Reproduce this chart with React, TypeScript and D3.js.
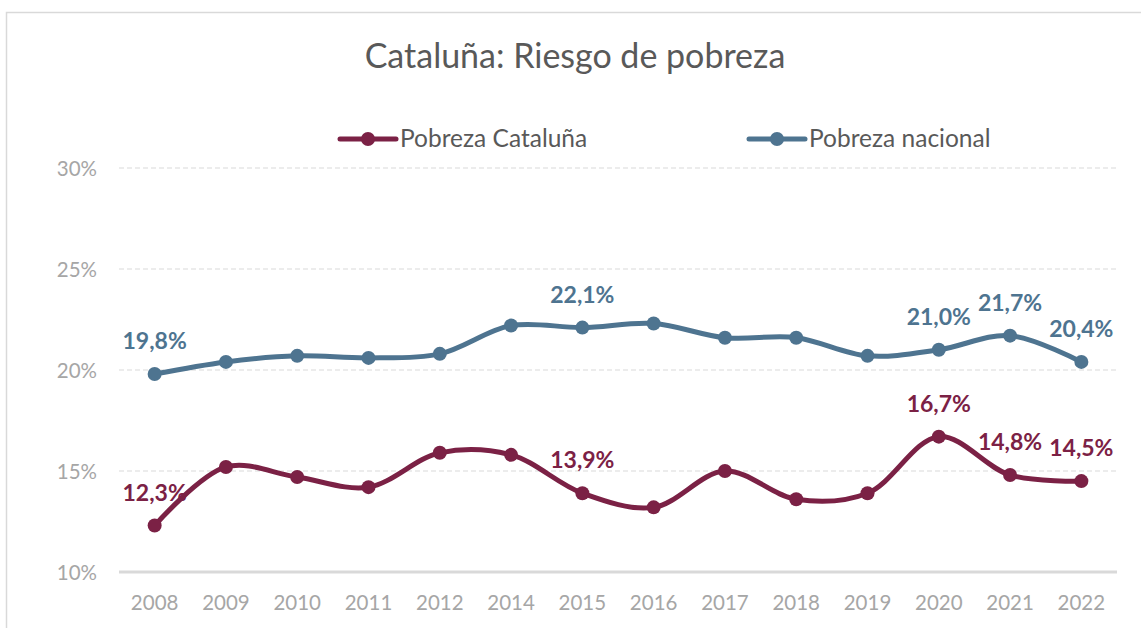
import * as d3 from "d3";

const years = ["2008", "2009", "2010", "2011", "2012", "2014", "2015", "2016", "2017", "2018", "2019", "2020", "2021", "2022"];
const cataluna = [12.3, 15.2, 14.7, 14.2, 15.9, 15.8, 13.9, 13.2, 15.0, 13.6, 13.9, 16.7, 14.8, 14.5];
const nacional = [19.8, 20.4, 20.7, 20.6, 20.8, 22.2, 22.1, 22.3, 21.6, 21.6, 20.7, 21.0, 21.7, 20.4];
// which points get a data label
const labelYears = ["2008", "2015", "2020", "2021", "2022"];
const yTicks = [10, 15, 20, 25, 30];

const RED = "#7b2145";
const BLUE = "#4e7490";
const FONT = "Lato, 'Open Sans', sans-serif";

export default function App() {
  const width = 1141;
  const height = 628;

  const x = d3.scaleBand<string>().domain(years).range([119, 1117]);
  const y = d3.scaleLinear().domain([10, 30]).range([572, 168]);
  const cx = (yr: string) => (x(yr) ?? 0) + x.bandwidth() / 2;

  const line = d3
    .line<number>()
    .x((_, i) => cx(years[i]))
    .y((d) => y(d))
    .curve(d3.curveCatmullRom.alpha(0.5));

  const fmt = (v: number) => v.toFixed(1).replace(".", ",") + "%";

  const series = [
    { name: "Pobreza Cataluña", values: cataluna, color: RED, lx: 340 },
    { name: "Pobreza nacional", values: nacional, color: BLUE, lx: 749 },
  ];

  return (
    <svg
      width={width}
      height={height}
      style={{ position: "absolute", left: 0, top: 0, background: "#fff" }}
    >
      {/* chart frame */}
      <rect x={6.5} y={12.5} width={1160} height={640} fill="#fff" stroke="#d9d9d9" strokeWidth={1.5} />

      <text x={575} y={68} textAnchor="middle" fontFamily={FONT} fontSize={34} fill="#595959">
        Cataluña: Riesgo de pobreza
      </text>

      {/* legend */}
      {series.map((s) => (
        <g key={s.name}>
          <line x1={s.lx} x2={s.lx + 56} y1={139} y2={139} stroke={s.color} strokeWidth={5} strokeLinecap="round" />
          <circle cx={s.lx + 28} cy={139} r={7} fill={s.color} />
          <text x={s.lx + 60} y={147} fontFamily={FONT} fontSize={24.5} fill="#595959">
            {s.name}
          </text>
        </g>
      ))}

      {/* grid */}
      {yTicks.map((t) => (
        <g key={t}>
          {t === 10 ? (
            <line x1={119} x2={1117} y1={y(t)} y2={y(t)} stroke="#d9d9d9" strokeWidth={3} />
          ) : (
            <line x1={119} x2={1117} y1={y(t)} y2={y(t)} stroke="#d9d9d9" strokeWidth={1} strokeDasharray="5,3" />
          )}
          <text x={97} y={y(t) + 7.5} textAnchor="end" fontFamily={FONT} fontSize={20.5} fill="#a6a6a6">
            {t}%
          </text>
        </g>
      ))}

      {years.map((yr) => (
        <text key={yr} x={cx(yr)} y={610} textAnchor="middle" fontFamily={FONT} fontSize={20.5} fill="#a6a6a6">
          {yr}
        </text>
      ))}

      {/* series */}
      {series.map((s) => (
        <g key={s.name}>
          <path d={line(s.values) ?? ""} fill="none" stroke={s.color} strokeWidth={5} strokeLinejoin="round" />
          {s.values.map((v, i) => (
            <circle key={i} cx={cx(years[i])} cy={y(v)} r={7} fill={s.color} />
          ))}
          {s.values.map((v, i) =>
            labelYears.includes(years[i]) ? (
              <text
                key={"l" + i}
                x={cx(years[i])}
                y={y(v) - 25}
                textAnchor="middle"
                fontFamily={FONT}
                fontWeight="bold"
                fontSize={23}
                fill={s.color}
              >
                {fmt(v)}
              </text>
            ) : null
          )}
        </g>
      ))}
    </svg>
  );
}
